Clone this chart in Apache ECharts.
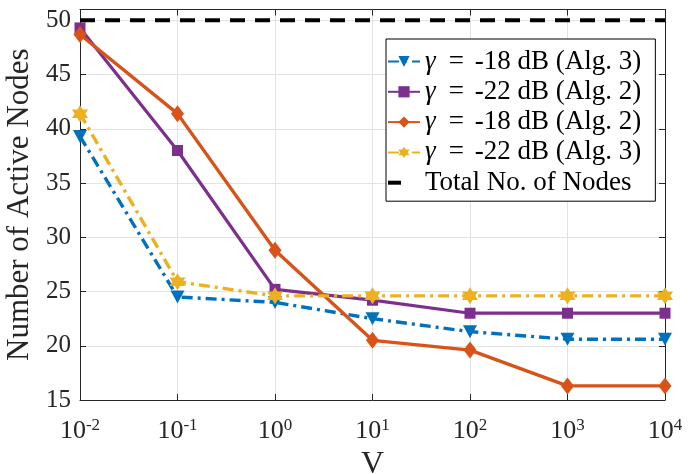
<!DOCTYPE html>
<html>
<head>
<meta charset="utf-8">
<script src="https://cdn.jsdelivr.net/npm/echarts@6/dist/echarts.min.js"></script>
<style>
  html, body { margin: 0; padding: 0; background: #fff; }
  #chart { width: 698px; height: 474px; }
</style>
</head>
<body>
<div id="chart"></div>
<script>
// V values (log-spaced) and the number of active nodes for each configuration
const vValues = [0.01, 0.1, 1, 10, 100, 1000, 10000];
const alg3Minus18 = [39.3, 24.5, 24.0, 22.5, 21.3, 20.6, 20.6];
const alg2Minus22 = [49.3, 38.0, 25.2, 24.2, 23.0, 23.0, 23.0];
const alg2Minus18 = [48.7, 41.4, 28.8, 20.5, 19.6, 16.3, 16.3];
const alg3Minus22 = [41.4, 25.9, 24.6, 24.6, 24.6, 24.6, 24.6];
const totalNodes = 50;
const seriesNames = [
  'γ = -18 dB (Alg. 3)',
  'γ = -22 dB (Alg. 2)',
  'γ = -18 dB (Alg. 2)',
  'γ = -22 dB (Alg. 3)',
  'Total No. of Nodes'
];
const yTicks = { min: 15, max: 51, interval: 5 };
const xRange = { min: 0.01, max: 10000 };

const colors = {
  blue: '#0072BD', purple: '#7E2F8E', orange: '#D95319', yellow: '#EDB120', axis: '#262626'
};

// six-pointed star marker
function hexagramPath() {
  const pts = [];
  for (let k = 0; k < 12; k++) {
    const r = k % 2 === 0 ? 1 : 1 / Math.sqrt(3);
    const a = Math.PI / 2 + k * Math.PI / 6;
    pts.push((r * Math.cos(a)).toFixed(4) + ' ' + (-r * Math.sin(a)).toFixed(4));
  }
  return 'path://M' + pts.join(' L') + ' Z';
}

// short thick dash drawn at the left end of a 32x14 legend icon box
const dashIcon = 'path://M0 0 M32 14 M0 5 L13 5 L13 9 L0 9 Z';

const pairs = arr => vValues.map((v, i) => [v, arr[i]]);
const fontSerif = 'Liberation Serif';
const dashDot = [11, 5, 3, 5];
const legendFont = 27;

const chart = echarts.init(document.getElementById('chart'), null, { renderer: 'canvas' });

const option = {
  animation: false,
  backgroundColor: '#fff',
  grid: { left: 80, right: 33, top: 9.5, bottom: 74, containLabel: false, outerBoundsMode: 'none' },
  xAxis: [{
    type: 'log', logBase: 10, min: xRange.min, max: xRange.max, splitNumber: 6,
    name: 'V', nameLocation: 'middle', nameGap: 46,
    nameTextStyle: { fontFamily: fontSerif, fontSize: 32, color: colors.axis },
    axisLine: { lineStyle: { color: colors.axis, width: 1 } },
    axisTick: { inside: true, length: 6, lineStyle: { color: colors.axis } },
    minorTick: { show: false },
    splitLine: { show: true, lineStyle: { color: '#e3e3e3', width: 1 } },
    axisLabel: {
      margin: 17,
      color: colors.axis,
      fontFamily: fontSerif,
      formatter: v => '{b|10}{s|' + Math.round(Math.log10(v)) + '}',
      rich: {
        b: { fontFamily: fontSerif, fontSize: 26, color: colors.axis, verticalAlign: 'bottom' },
        s: { fontFamily: fontSerif, fontSize: 17, color: colors.axis, verticalAlign: 'top', padding: [0, 0, 10, 0] }
      }
    }
  }, {
    type: 'log', logBase: 10, min: xRange.min, max: xRange.max, splitNumber: 6, position: 'top',
    axisLine: { show: true, lineStyle: { color: colors.axis, width: 1 } },
    axisTick: { show: true, inside: true, length: 6, lineStyle: { color: colors.axis } },
    axisLabel: { show: false }, splitLine: { show: false }
  }],
  yAxis: [{
    type: 'value', min: yTicks.min, max: yTicks.max, interval: yTicks.interval,
    name: 'Number of Active Nodes', nameLocation: 'middle', nameGap: 34,
    nameTextStyle: { fontFamily: fontSerif, fontSize: 31, color: colors.axis },
    axisLine: { show: true, lineStyle: { color: colors.axis, width: 1 } },
    axisTick: { show: true, inside: true, length: 6, lineStyle: { color: colors.axis } },
    splitLine: { show: true, lineStyle: { color: '#e3e3e3', width: 1 } },
    axisLabel: { showMaxLabel: false, margin: 9, color: colors.axis, fontFamily: fontSerif, fontSize: 25 }
  }, {
    type: 'value', min: yTicks.min, max: yTicks.max, interval: yTicks.interval, position: 'right',
    axisLine: { show: true, lineStyle: { color: colors.axis, width: 1 } },
    axisTick: { show: true, inside: true, length: 6, lineStyle: { color: colors.axis } },
    axisLabel: { show: false }, splitLine: { show: false }
  }],
  legend: {
    orient: 'vertical', left: 386, top: 39,
    padding: [9, 14, 5, 1],
    itemWidth: 32, itemHeight: 14, itemGap: 3.3,
    backgroundColor: '#fff', borderColor: '#000', borderWidth: 1, borderRadius: 0,
    data: [
      seriesNames[0], seriesNames[1], seriesNames[2], seriesNames[3],
      { name: seriesNames[4], icon: dashIcon, itemStyle: { color: '#000' } }
    ],
    formatter: name => name.replace('γ', '{g|γ}').replace(' = ', '{e|=}'),
    textStyle: {
      fontFamily: fontSerif, fontSize: legendFont, lineHeight: 27, color: '#000',
      rich: {
        g: { fontFamily: fontSerif, fontSize: legendFont, fontStyle: 'italic', color: '#000' },
        e: { fontFamily: fontSerif, fontSize: legendFont, color: '#000', padding: [0, 11, 0, 13] }
      }
    }
  },
  series: [
    {
      name: seriesNames[0], type: 'line', data: pairs(alg3Minus18),
      symbol: 'triangle', symbolRotate: 180, symbolSize: [14, 13],
      lineStyle: { color: colors.blue, width: 3.4, type: dashDot },
      itemStyle: { color: colors.blue }, z: 3
    },
    {
      name: seriesNames[1], type: 'line', data: pairs(alg2Minus22),
      symbol: 'rect', symbolSize: 11,
      lineStyle: { color: colors.purple, width: 3.2 },
      itemStyle: { color: colors.purple }, z: 4
    },
    {
      name: seriesNames[2], type: 'line', data: pairs(alg2Minus18),
      symbol: 'diamond', symbolSize: [13, 17],
      lineStyle: { color: colors.orange, width: 3.4 },
      itemStyle: { color: colors.orange }, z: 5
    },
    {
      name: seriesNames[3], type: 'line', data: pairs(alg3Minus22),
      symbol: hexagramPath(), symbolSize: [16, 17],
      lineStyle: { color: colors.yellow, width: 3.4, type: dashDot },
      itemStyle: { color: colors.yellow }, z: 6
    },
    {
      name: seriesNames[4], type: 'line',
      data: [[xRange.min, totalNodes], [xRange.max, totalNodes]],
      symbol: 'none',
      lineStyle: { color: '#000', width: 4, type: [15, 10] },
      itemStyle: { color: '#000' }, z: 7
    }
  ]
};

chart.setOption(option);
</script>
</body>
</html>
